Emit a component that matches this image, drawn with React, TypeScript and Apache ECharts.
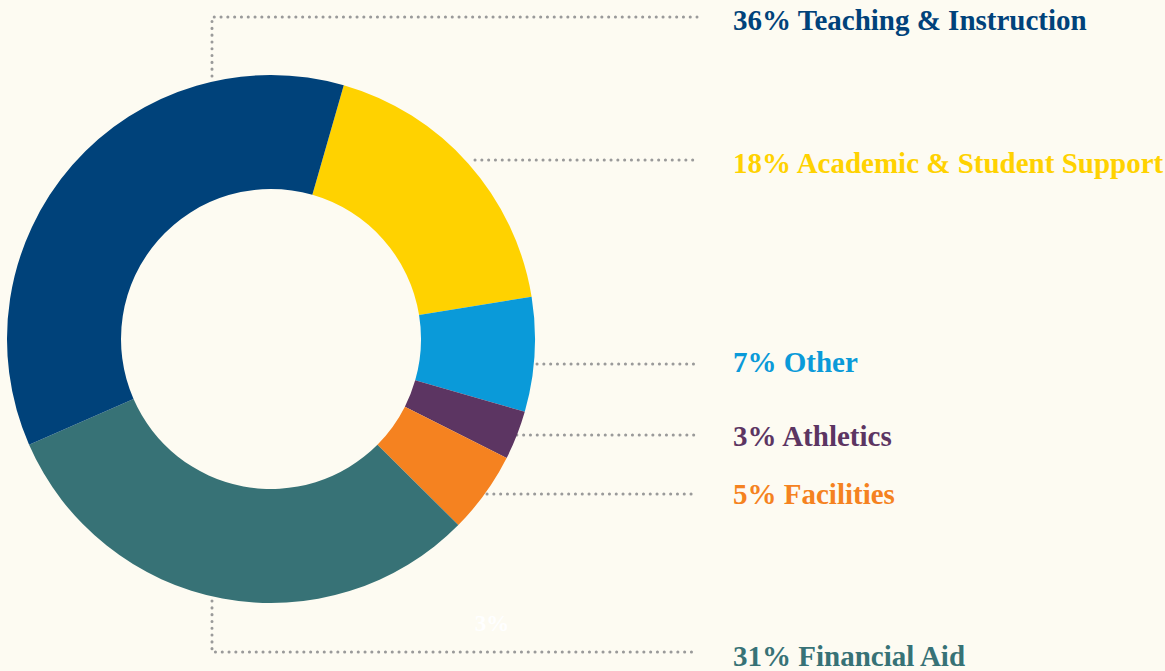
import React, { useEffect, useRef } from "react";
import * as echarts from "echarts";

const categories = [
  "Academic & Student Support",
  "Other",
  "Athletics",
  "Facilities",
  "Financial Aid",
  "Teaching & Instruction",
];
const values = [18, 7, 3, 5, 31, 36];
const colors = ["#FFD200", "#0A9AD9", "#5C3562", "#F58220", "#377276", "#00427A"];
const labelYs = [163, 362, 436, 494, 656, 20];
const linePoints = [
  [[475, 160], [586, 160], [697, 160]],
  [[537, 364], [617, 364], [697, 364]],
  [[510, 435], [600, 435], [697, 435]],
  [[487, 494], [590, 494], [697, 494]],
  [[212, 601], [212, 652], [697, 652]],
  [[212, 76], [212, 17], [697, 17]],
];
const ghostLabel = "3%";

export default function App() {
  const ref = useRef<HTMLDivElement>(null);
  useEffect(() => {
    const chart = echarts.init(ref.current!, null, { renderer: "svg" });
    chart.setOption({
      animation: false,
      backgroundColor: "#FDFBF2",
      graphic: [
        {
          type: "text",
          x: 492,
          y: 623,
          z: 10,
          style: {
            text: ghostLabel,
            fill: "#FFFFFF",
            font: "bold 23px 'Liberation Serif'",
            textAlign: "center",
            textVerticalAlign: "middle",
          },
        },
      ],
      series: [
        {
          type: "pie",
          center: [271, 339],
          radius: [150, 264],
          startAngle: 74,
          clockwise: true,
          silent: true,
          label: {
            show: true,
            position: "outside",
            fontFamily: "Liberation Serif",
            fontWeight: "bold",
            fontSize: 29,
            overflow: "none",
            width: 500,
            formatter: (p: any) => `${p.value}% ${p.name}`,
          },
          labelLine: {
            show: true,
            lineStyle: { color: "#9A9A9A", width: 3, type: [0.1, 6.7], cap: "round" },
          },
          labelLayout: (params: any) => ({
            x: 733,
            y: labelYs[params.dataIndex],
            align: "left",
            verticalAlign: "middle",
            width: 500,
            labelLinePoints: linePoints[params.dataIndex],
          }),
          itemStyle: { borderWidth: 0 },
          data: categories.map((name, i) => ({
            name,
            value: values[i],
            itemStyle: { color: colors[i] },
            label: { color: colors[i] },
          })),
        },
      ],
    });
    return () => chart.dispose();
  }, []);
  return (
    <div
      ref={ref}
      style={{ position: "fixed", left: 0, top: 0, width: 1165, height: 671, background: "#FDFBF2" }}
    />
  );
}
